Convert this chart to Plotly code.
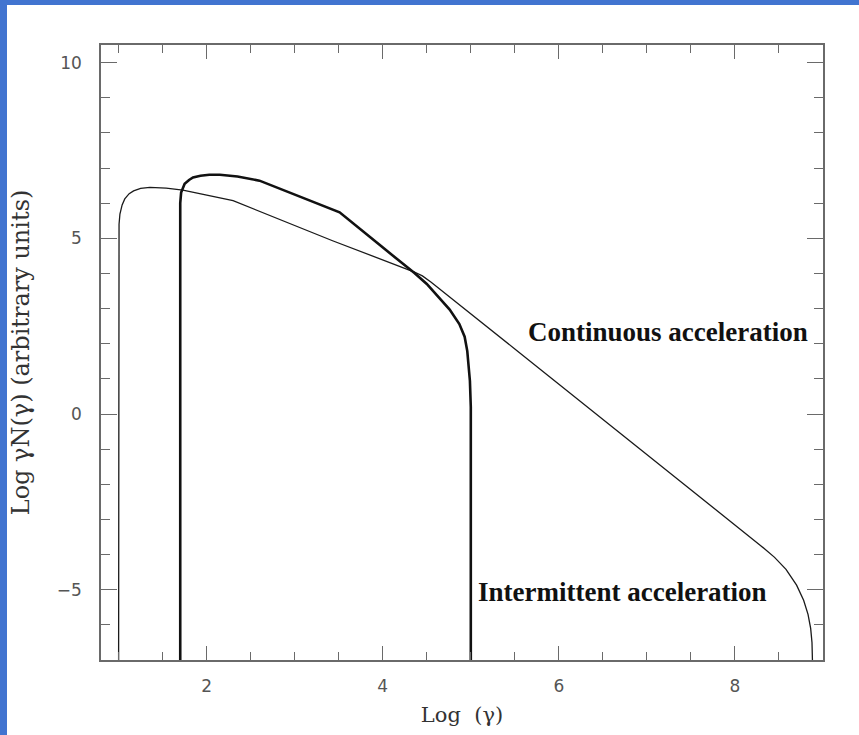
import plotly.graph_objects as go

# Continuous acceleration spectrum (thin line)
cont_x = [1.0, 1.0, 1.005, 1.015, 1.04, 1.07, 1.12, 1.17, 1.25, 1.355, 1.54, 1.73, 2.03, 2.3,
          3.43, 4.19, 4.36, 4.45, 4.55, 5.5, 6.9, 7.81, 8.3, 8.45, 8.58, 8.7, 8.78, 8.83, 8.86, 8.875, 8.88]
cont_y = [-7.0, 5.0, 5.4, 5.69, 5.95, 6.12, 6.27, 6.35, 6.42, 6.45, 6.43, 6.37, 6.21, 6.07,
          4.93, 4.22, 4.04, 3.93, 3.75, 1.85, -0.95, -2.77, -3.76, -4.08, -4.42, -4.87, -5.3, -5.7, -6.1, -6.5, -7.0]

# Intermittent acceleration spectrum (thick line)
int_x = [1.70, 1.70, 1.71, 1.73, 1.75, 1.80, 1.845, 1.93, 2.03, 2.15, 2.35, 2.6,
         3.51, 3.96, 4.19, 4.36, 4.5, 4.64, 4.76, 4.87, 4.93, 4.96, 4.99, 5.0, 5.0]
int_y = [-7.0, 6.0, 6.3, 6.45, 6.55, 6.66, 6.73, 6.78, 6.81, 6.81, 6.76, 6.64,
         5.74, 4.82, 4.36, 4.01, 3.7, 3.31, 2.97, 2.56, 2.2, 1.79, 0.94, 0.2, -7.0]

x_range = [0.8, 9.0]
y_range = [-7.0, 10.5]
x_ticks = [2, 4, 6, 8]
y_ticks = [-5, 0, 5, 10]
y_ticklabels = ["\u22125", "0", "5", "10"]

labels = ["Continuous acceleration", "Intermittent acceleration"]
label_x = [5.63, 5.06]
label_y = [2.34, -5.07]

fig = go.Figure()
fig.add_trace(go.Scatter(x=cont_x, y=cont_y, mode="lines",
                         line=dict(color="#1a1a1a", width=1.3), showlegend=False))
fig.add_trace(go.Scatter(x=int_x, y=int_y, mode="lines",
                         line=dict(color="#111111", width=2.6), showlegend=False))

for t, xx, yy in zip(labels, label_x, label_y):
    fig.add_annotation(x=xx, y=yy, text="<b>" + t + "</b>", showarrow=False,
                       xanchor="left", yanchor="middle",
                       font=dict(family="Liberation Serif", size=27, color="#111111"))

axis_common = dict(showgrid=False, zeroline=False, showline=True, linecolor="#6a6a6a",
                   linewidth=1.5, mirror="ticks", ticks="inside", tickcolor="#6a6a6a",
                   tickwidth=1.2,
                   tickfont=dict(family="DejaVu Sans", size=17, color="#555555"))

fig.update_xaxes(range=x_range, tickvals=x_ticks, ticklen=14,
                 minor=dict(dtick=0.5, tick0=0, ticks="inside", ticklen=8,
                            tickcolor="#6a6a6a", tickwidth=1.2),
                 ticklabelstandoff=10,
                 title=dict(text="Log  (\u03b3)", standoff=12,
                            font=dict(family="DejaVu Serif", size=21, color="#333333")),
                 **axis_common)
fig.update_yaxes(range=y_range, tickvals=y_ticks, ticktext=y_ticklabels, ticklen=16,
                 minor=dict(dtick=1, tick0=0, ticks="inside", ticklen=9,
                            tickcolor="#6a6a6a", tickwidth=1.2),
                 ticklabelstandoff=14,
                 title=dict(text="Log \u03b3N(\u03b3) (arbitrary units)", standoff=20,
                            font=dict(family="DejaVu Serif", size=24, color="#333333")),
                 **axis_common)

W, H = 859, 735
ml, mr, mt, mb = 101, 36, 45, 75
pw, ph = W - ml - mr, H - mt - mb
# blue slide border strips (left and top)
fig.add_shape(type="rect", xref="paper", yref="paper",
              x0=-ml / pw, x1=(7 - ml) / pw, y0=-mb / ph, y1=1 + mt / ph,
              fillcolor="#4174D0", line=dict(width=0), layer="above")
fig.add_shape(type="rect", xref="paper", yref="paper",
              x0=-ml / pw, x1=1 + mr / pw, y0=1 + (mt - 5) / ph, y1=1 + mt / ph,
              fillcolor="#4174D0", line=dict(width=0), layer="above")

fig.update_layout(width=W, height=H, margin=dict(l=ml, r=mr, t=mt, b=mb),
                  paper_bgcolor="white", plot_bgcolor="white")

fig.write_html("out.html", config={"displayModeBar": False},
               post_script="document.body.style.margin='0';document.body.style.overflow='hidden';")
